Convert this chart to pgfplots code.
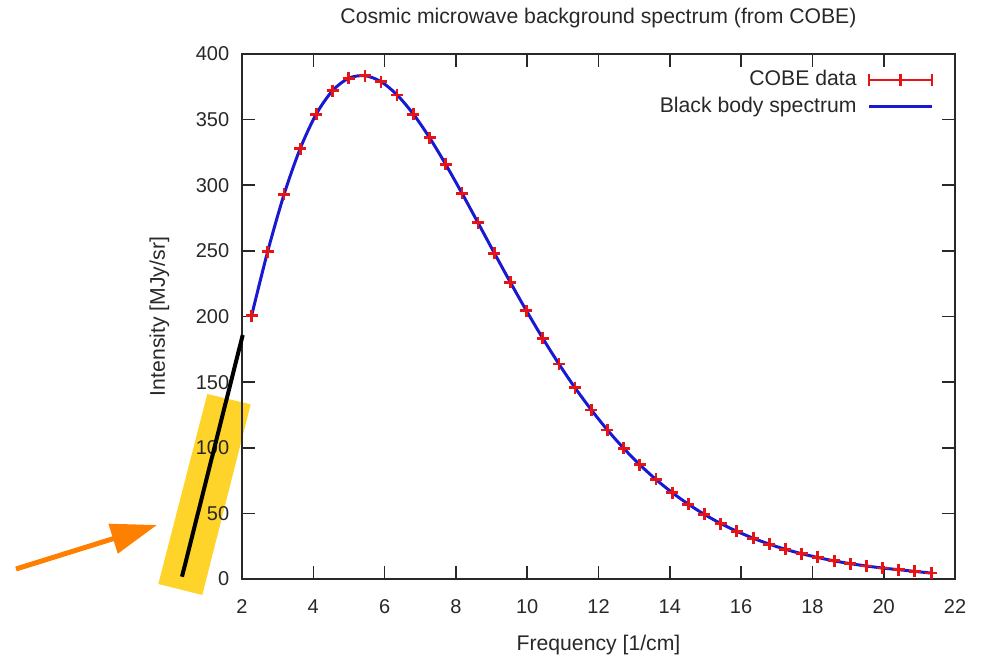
\documentclass[border=0pt]{standalone}
\usepackage{fontspec}
\setmainfont{Liberation Sans}
\usepackage{pgfplots}
\usepackage{pgfplotstable}
\pgfplotsset{compat=1.18}
\usetikzlibrary{arrows.meta}

\definecolor{cobered}{RGB}{230,20,20}
\definecolor{bbblue}{RGB}{25,25,210}
\definecolor{hlyellow}{RGB}{255,212,42}
\definecolor{arroworange}{RGB}{255,128,0}
\definecolor{txt}{RGB}{40,40,40}

% COBE FIRAS monopole spectrum
\pgfplotstableread{
nu     I
2.27   200.723
2.72   249.508
3.18   293.024
3.63   327.770
4.08   354.081
4.54   372.079
4.99   381.493
5.45   383.478
5.90   378.901
6.35   368.833
6.81   354.063
7.26   336.278
7.71   316.076
8.17   293.924
8.62   271.432
9.08   248.239
9.53   225.940
9.98   204.327
10.44  183.262
10.89  163.830
11.34  145.750
11.80  128.835
12.25  113.568
12.71  99.451
13.16  87.036
13.61  75.876
14.07  65.766
14.52  57.008
14.97  49.223
15.43  42.267
15.88  36.352
16.34  31.062
16.79  26.580
17.24  22.644
17.70  19.255
18.15  16.391
18.61  13.811
19.06  11.716
19.51  9.921
19.97  8.364
20.42  7.087
20.87  5.801
21.33  4.523
}\cobe

\begin{document}
\begin{tikzpicture}[font=\fontsize{10}{12}\selectfont]
\path (-121pt,-40pt) rectangle (373.5pt,289.5pt);
% highlight box behind the axis
\fill[hlyellow] (-17.35pt,92.5pt) -- (4.35pt,87.35pt) -- (-19.85pt,-8pt) -- (-41.85pt,-2.5pt) -- cycle;
\begin{axis}[
  scale only axis, width=356.5pt, height=262.5pt,
  xmin=2, xmax=22, ymin=0, ymax=400,
  xtick={2,4,...,22}, ytick={0,50,...,400},
  tick align=inside, major tick length=6.5pt,
  every tick/.style={txt, line width=0.8pt},
  axis line style={txt, line width=1pt},
  /pgf/number format/assume math mode=true,
  xticklabel style={anchor=north, inner sep=0pt, yshift=-10pt, text=txt},
  yticklabel style={anchor=east, inner sep=0pt, xshift=-6.2pt, text=txt},
  title={Cosmic microwave background spectrum (from COBE)},
  title style={at={(axis description cs:0.5,1.059)}, anchor=base, yshift=-6pt, inner sep=0pt, text=txt,
    font=\fontsize{10.6}{12}\selectfont},
  xlabel={Frequency [1/cm]},
  xlabel style={at={(axis description cs:0.5,-0.1364)}, anchor=base, inner sep=0pt, text=txt,
    font=\fontsize{10.6}{12}\selectfont},
  ylabel={Intensity [MJy/sr]},
  ylabel style={at={(axis description cs:-0.108,0.5)}, anchor=base, inner sep=0pt, text=txt,
    font=\fontsize{10.6}{12}\selectfont},
  legend style={at={(axis description cs:0.9705,0.9695)}, anchor=north east,
    draw=none, fill=none, inner sep=0pt, row sep=4pt, column sep=5.5pt,
    font=\fontsize{10.6}{12}\selectfont,
    nodes={inner sep=0pt, text height=7.5pt, text depth=2pt, text=txt}},
  legend cell align=right, legend plot pos=right,
]
\addplot[only marks, mark=+, mark size=3pt, cobered, line width=1.4pt,
  legend image code/.code={
    \draw[cobered, line width=1.2pt] (0pt,0pt) -- (31.5pt,0pt);
    \draw[cobered, line width=1.2pt] (0pt,-3.2pt) -- (0pt,3.2pt);
    \draw[cobered, line width=1.2pt] (15.75pt,-3.2pt) -- (15.75pt,3.2pt);
    \draw[cobered, line width=1.2pt] (31.5pt,-3.2pt) -- (31.5pt,3.2pt);
  }] table[x=nu, y=I] {\cobe};
\addlegendentry{COBE data}
\addplot[bbblue, line width=1.5pt, smooth, no markers,
  legend image code/.code={
    \draw[bbblue, line width=1.5pt] (0pt,0pt) -- (31.5pt,0pt);
  }] table[x=nu, y=I] {\cobe};
\addlegendentry{Black body spectrum}
\end{axis}
% annotations
\draw[black, line width=2pt] (-30pt,1.15pt) -- (0.35pt,122pt);
\draw[arroworange, line width=2.5pt, -{Triangle[length=23pt,width=15pt]}] (-113pt,5pt) -- (-42.5pt,27pt);
\end{tikzpicture}
\end{document}
